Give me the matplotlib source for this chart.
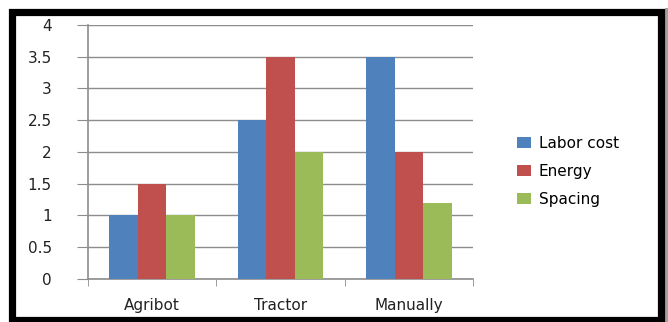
import matplotlib.pyplot as plt
import matplotlib.patches as patches
import numpy as np

categories = ['Agribot', 'Tractor', 'Manually']
series = ['Labor cost', 'Energy', 'Spacing']
labor_cost = [1.0, 2.5, 3.5]
energy = [1.5, 3.5, 2.0]
spacing = [1.0, 2.0, 1.2]
y_ticks = [0, 0.5, 1, 1.5, 2, 2.5, 3, 3.5, 4]
y_labels = ['0', '0.5', '1', '1.5', '2', '2.5', '3', '3.5', '4']

colors = ['#4F81BD', '#C0504D', '#9BBB59']
grid_col = '#8C8C8C'

fig = plt.figure(figsize=(6.68, 3.22), dpi=100)
ax = fig.add_axes([0.1317, 0.1335, 0.5763, 0.789])

x = np.arange(len(categories))
w = 1 / 4.5
for i, (vals, name) in enumerate(zip([labor_cost, energy, spacing], series)):
    ax.bar(x + (i - 1) * w, vals, w, color=colors[i], label=name, zorder=3)

ax.set_xlim(-0.5, 2.5)
ax.set_ylim(0, 4)
ax.set_yticks(y_ticks)
ax.set_yticklabels(y_labels)
ax.set_xticks(x)
ax.set_xticklabels(categories)
ax.set_xticks([-0.5, 0.5, 1.5, 2.5], minor=True)
ax.tick_params(axis='x', which='major', length=0, pad=14, labelsize=11, colors='#222222')
ax.tick_params(axis='x', which='minor', length=5, color=grid_col, direction='out')
ax.tick_params(axis='y', length=8, color=grid_col, pad=18, labelsize=11)
for lab in ax.get_yticklabels():
    lab.set_color('#222222')
ax.yaxis.grid(True, color=grid_col, linewidth=1, zorder=0)
for s in ['top', 'right']:
    ax.spines[s].set_visible(False)
for s in ['left', 'bottom']:
    ax.spines[s].set_color(grid_col)
    ax.spines[s].set_linewidth(1.2)

ax.legend(loc='center left', bbox_to_anchor=(1.08, 0.425), frameon=False,
          handlelength=0.9, handleheight=0.7, handletextpad=0.5,
          labelspacing=0.85, fontsize=11)

# grey shadow on the right, then the thick black frame
fig.patches.append(patches.Rectangle((665 / 668, 0), 3 / 668, 314 / 322,
                                     transform=fig.transFigure, color='#A0A0A0',
                                     linewidth=0))
fig.patches.append(patches.Rectangle((11.5 / 668, 2 / 322), 649.5 / 668, 308.5 / 322,
                                     transform=fig.transFigure, fill=False,
                                     edgecolor='black', linewidth=5.2,
                                     joinstyle='miter'))

fig.savefig('out.png', dpi=100)
